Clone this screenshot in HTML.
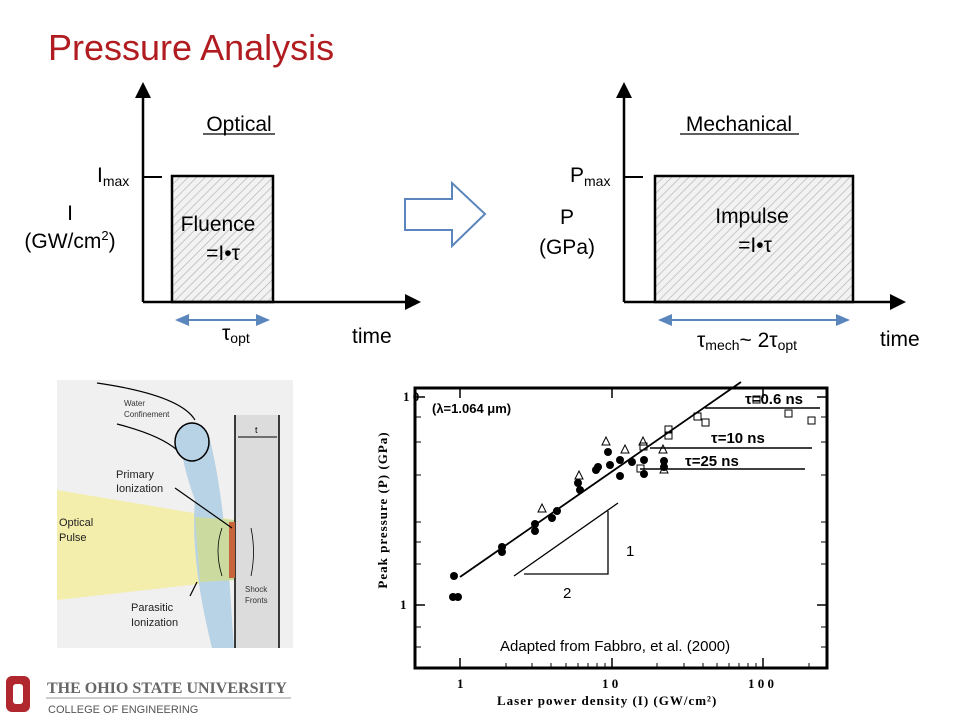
<!DOCTYPE html>
<html><head><meta charset="utf-8"><style>
body{margin:0;background:#fff;width:960px;height:720px;overflow:hidden;font-family:"Liberation Sans",sans-serif}
</style></head><body>
<svg width="960" height="720" viewBox="0 0 960 720" xmlns="http://www.w3.org/2000/svg" font-family="Liberation Sans, sans-serif">
<defs>
<pattern id="h" width="6" height="6" patternUnits="userSpaceOnUse" patternTransform="rotate(45)"><rect width="6" height="6" fill="#f2f2f2"/><line x1="0" y1="0" x2="0" y2="6" stroke="#b0b0b0" stroke-width="1.3"/></pattern>
<marker id="ba" markerWidth="8" markerHeight="8" refX="6" refY="4" orient="auto-start-reverse"><path d="M0,1 L7,4 L0,7z" fill="#5b86bd"/></marker>
</defs>
<text x="48" y="60" font-size="36" fill="#b01c20">Pressure Analysis</text>
<!-- left graph -->
<rect x="172" y="176" width="101" height="126" fill="url(#h)" stroke="#000" stroke-width="2.5"/>
<line x1="143" y1="302" x2="408" y2="302" stroke="#000" stroke-width="2.5"/>
<path d="M405,294 L421,302 L405,310z"/>
<line x1="143" y1="302" x2="143" y2="96" stroke="#000" stroke-width="2.5"/>
<path d="M135,98 L143,82 L151,98z"/>
<line x1="143" y1="177" x2="162" y2="177" stroke="#000" stroke-width="2"/>
<line x1="177" y1="320" x2="268" y2="320" stroke="#5b86bd" stroke-width="2" marker-start="url(#ba)" marker-end="url(#ba)"/>
<text x="239" y="131" font-size="21" text-anchor="middle">Optical</text>
<line x1="203" y1="134" x2="275" y2="134" stroke="#000" stroke-width="1.2"/>
<text x="97" y="182" font-size="21">I<tspan font-size="14" dy="4">max</tspan></text>
<text x="70" y="220" font-size="21" text-anchor="middle">I</text>
<text x="70" y="248" font-size="21" text-anchor="middle">(GW/cm<tspan font-size="13" dy="-8">2</tspan><tspan dy="8">)</tspan></text>
<text x="218" y="231" font-size="21" text-anchor="middle">Fluence</text>
<text x="223" y="260" font-size="21" text-anchor="middle">=I•τ</text>
<text x="222" y="340" font-size="21">τ<tspan font-size="14" dy="3">opt</tspan></text>
<text x="352" y="343" font-size="21">time</text>
<!-- hollow arrow -->
<path d="M405,199 L452,199 L452,183 L485,214 L452,246 L452,230 L405,230z" fill="#fff" stroke="#5b86bd" stroke-width="2"/>
<!-- right graph -->
<rect x="655" y="176" width="198" height="126" fill="url(#h)" stroke="#000" stroke-width="2.5"/>
<line x1="624" y1="302" x2="893" y2="302" stroke="#000" stroke-width="2.5"/>
<path d="M890,294 L906,302 L890,310z"/>
<line x1="624" y1="302" x2="624" y2="96" stroke="#000" stroke-width="2.5"/>
<path d="M616,98 L624,82 L632,98z"/>
<line x1="624" y1="177" x2="643" y2="177" stroke="#000" stroke-width="2"/>
<line x1="660" y1="320" x2="848" y2="320" stroke="#5b86bd" stroke-width="2" marker-start="url(#ba)" marker-end="url(#ba)"/>
<text x="739" y="131" font-size="21" text-anchor="middle">Mechanical</text>
<line x1="680" y1="134" x2="799" y2="134" stroke="#000" stroke-width="1.2"/>
<text x="570" y="182" font-size="21">P<tspan font-size="14" dy="4">max</tspan></text>
<text x="567" y="224" font-size="21" text-anchor="middle">P</text>
<text x="567" y="254" font-size="21" text-anchor="middle">(GPa)</text>
<text x="752" y="223" font-size="21" text-anchor="middle">Impulse</text>
<text x="755" y="252" font-size="21" text-anchor="middle">=I•τ</text>
<text x="697" y="347" font-size="21">τ<tspan font-size="14" dy="3">mech</tspan><tspan dy="-3">~ 2τ</tspan><tspan font-size="14" dy="3">opt</tspan></text>
<text x="880" y="346" font-size="21">time</text>
<!-- illustration -->
<rect x="57" y="380" width="236" height="268" fill="#f0f0f0"/>
<path d="M57,490 L235,520 L235,580 L57,600z" fill="#f3eeab"/>
<path d="M180,430 Q195,410 210,440 Q225,500 232,620 L234,648 L212,648 Q190,560 195,500 Q180,460 180,430z" fill="#b9d3e6"/>
<path d="M195,517 L235,520 L235,580 L200,582z" fill="#cbdba0"/>
<rect x="235" y="415" width="44" height="233" fill="#dcdcdc"/>
<line x1="235" y1="415" x2="235" y2="648" stroke="#000" stroke-width="1.5"/>
<line x1="279" y1="415" x2="279" y2="648" stroke="#000" stroke-width="1.5"/>
<line x1="238" y1="437" x2="277" y2="437" stroke="#000" stroke-width="1"/>
<text x="255" y="433" font-size="9">t</text>
<ellipse cx="192" cy="442" rx="17" ry="19" fill="#b9d3e6" stroke="#000" stroke-width="1.5"/>
<path d="M97,383 Q180,395 195,420 M117,424 Q160,435 177,450" fill="none" stroke="#000" stroke-width="1.2"/>
<rect x="229" y="522" width="6" height="56" fill="#c8643c"/>
<path d="M222,528 Q214,550 222,576 M251,528 Q256,552 251,576" fill="none" stroke="#000" stroke-width="0.8"/>
<line x1="175" y1="488" x2="232" y2="528" stroke="#000" stroke-width="1.2"/>
<line x1="197" y1="582" x2="190" y2="596" stroke="#000" stroke-width="1.2"/>
<text font-size="8" fill="#333"><tspan x="124" y="406">Water</tspan><tspan x="124" y="417">Confinement</tspan></text>
<text font-size="11" fill="#222"><tspan x="116" y="478">Primary</tspan><tspan x="116" y="492">Ionization</tspan></text>
<text font-size="11" fill="#222"><tspan x="59" y="526">Optical</tspan><tspan x="59" y="541">Pulse</tspan></text>
<text font-size="11" fill="#222"><tspan x="131" y="611">Parasitic</tspan><tspan x="131" y="626">Ionization</tspan></text>
<text font-size="8" fill="#333"><tspan x="245" y="592">Shock</tspan><tspan x="245" y="603">Fronts</tspan></text>
<!-- plot -->
<rect x="415" y="388" width="412" height="280" fill="#fff" stroke="#000" stroke-width="3"/>
<g stroke="#000" stroke-width="1.5">
<line x1="415" y1="397" x2="425" y2="397"/><line x1="415" y1="605" x2="425" y2="605"/>
<line x1="817" y1="397" x2="827" y2="397"/><line x1="817" y1="605" x2="827" y2="605"/>
<line x1="460" y1="668" x2="460" y2="658"/><line x1="612" y1="668" x2="612" y2="658"/><line x1="763" y1="668" x2="763" y2="658"/>
<line x1="460" y1="388" x2="460" y2="398"/><line x1="612" y1="388" x2="612" y2="398"/><line x1="763" y1="388" x2="763" y2="398"/>
</g>
<g stroke="#000" stroke-width="1">
<path d="M415,417h6M415,442h6M415,475h6M415,522h6M415,542h6M415,564h6M415,627h6M415,647h6"/>
<path d="M821,417h6M821,442h6M821,475h6M821,522h6M821,542h6M821,564h6M821,627h6M821,647h6"/>
<path d="M506,668v-5M532,668v-5M551,668v-5M566,668v-5M578,668v-5M588,668v-5M597,668v-5M605,668v-5M657,668v-5M684,668v-5M703,668v-5M717,668v-5M729,668v-5M739,668v-5M748,668v-5M756,668v-5M809,668v-5"/>
</g>
<line x1="460" y1="577" x2="741" y2="382" stroke="#000" stroke-width="1.8"/>
<line x1="514" y1="576" x2="618" y2="503" stroke="#000" stroke-width="1.3"/>
<polyline points="524,574 608,574 608,511" fill="none" stroke="#000" stroke-width="1.3"/>
<text x="626" y="556" font-size="15">1</text>
<text x="563" y="598" font-size="15">2</text>
<line x1="705" y1="408" x2="820" y2="408" stroke="#000" stroke-width="1.5"/>
<line x1="650" y1="448" x2="812" y2="448" stroke="#000" stroke-width="1.5"/>
<line x1="640" y1="469" x2="805" y2="469" stroke="#000" stroke-width="1.5"/>
<text x="745" y="404" font-size="15" font-weight="bold">τ=0.6 ns</text>
<text x="711" y="443" font-size="15" font-weight="bold">τ=10 ns</text>
<text x="685" y="466" font-size="15" font-weight="bold">τ=25 ns</text>
<text x="432" y="413" font-size="13" font-weight="bold">(λ=1.064  μm)</text>
<text x="500" y="651" font-size="15">Adapted from Fabbro, et al. (2000)</text>
<g fill="#000">
<circle cx="454" cy="576" r="4"/><circle cx="453" cy="597" r="4"/><circle cx="458" cy="597" r="4"/>
<circle cx="502" cy="547" r="4"/><circle cx="502" cy="552" r="4"/><circle cx="535" cy="524" r="4"/><circle cx="535" cy="531" r="4"/>
<circle cx="552" cy="518" r="4"/><circle cx="557" cy="511" r="4"/><circle cx="578" cy="483" r="4"/><circle cx="580" cy="490" r="4"/>
<circle cx="596" cy="470" r="4"/><circle cx="598" cy="467" r="4"/><circle cx="608" cy="452" r="4"/><circle cx="610" cy="465" r="4"/>
<circle cx="620" cy="460" r="4"/><circle cx="620" cy="476" r="4"/><circle cx="632" cy="462" r="4"/><circle cx="644" cy="460" r="4"/>
<circle cx="644" cy="474" r="4"/><circle cx="664" cy="461" r="4"/><circle cx="664" cy="467" r="4"/>
</g>
<g fill="none" stroke="#000" stroke-width="1">
<path d="M542,504l-4,8h8z M579,471l-4,8h8z M606,437l-4,8h8z M625,445l-4,8h8z M643,437l-4,8h8z M663,445l-4,8h8z M664,465l-4,8h8z"/>
<rect x="637" y="465" width="7" height="7"/><rect x="640" y="443" width="7" height="7"/><rect x="665" y="426" width="7" height="7"/><rect x="665" y="432" width="7" height="7"/>
<rect x="694" y="413" width="7" height="7"/><rect x="702" y="419" width="7" height="7"/><rect x="753" y="396" width="7" height="7"/><rect x="785" y="410" width="7" height="7"/><rect x="808" y="417" width="7" height="7"/>
</g>
<text transform="translate(387,510) rotate(-90)" text-anchor="middle" font-size="13" font-weight="bold" font-family="Liberation Serif, serif" letter-spacing="1">Peak pressure  (P)  (GPa)</text>
<text x="403" y="401" font-size="13" font-weight="bold" font-family="Liberation Serif, serif">1 0</text>
<text x="400" y="609" font-size="13" font-weight="bold" font-family="Liberation Serif, serif">1</text>
<text x="457" y="688" font-size="13" font-weight="bold" font-family="Liberation Serif, serif">1</text>
<text x="602" y="688" font-size="13" font-weight="bold" font-family="Liberation Serif, serif">1 0</text>
<text x="748" y="688" font-size="13" font-weight="bold" font-family="Liberation Serif, serif">1 0 0</text>
<text x="497" y="705" font-size="13" font-weight="bold" font-family="Liberation Serif, serif" letter-spacing="1">Laser power density  (I)  (GW/cm²)</text>
<!-- logo -->
<rect x="6" y="676" width="24" height="36" rx="6" fill="#b0272d"/>
<rect x="13" y="684" width="10" height="20" rx="3" fill="#fff"/>
<text x="47" y="693" font-size="16" font-family="Liberation Serif, serif" fill="#666" font-weight="bold">THE OHIO STATE UNIVERSITY</text>
<line x1="46" y1="698" x2="291" y2="698" stroke="#999" stroke-width="1"/>
<text x="48" y="713" font-size="11" fill="#555">COLLEGE OF ENGINEERING</text>
</svg>
</body></html>
